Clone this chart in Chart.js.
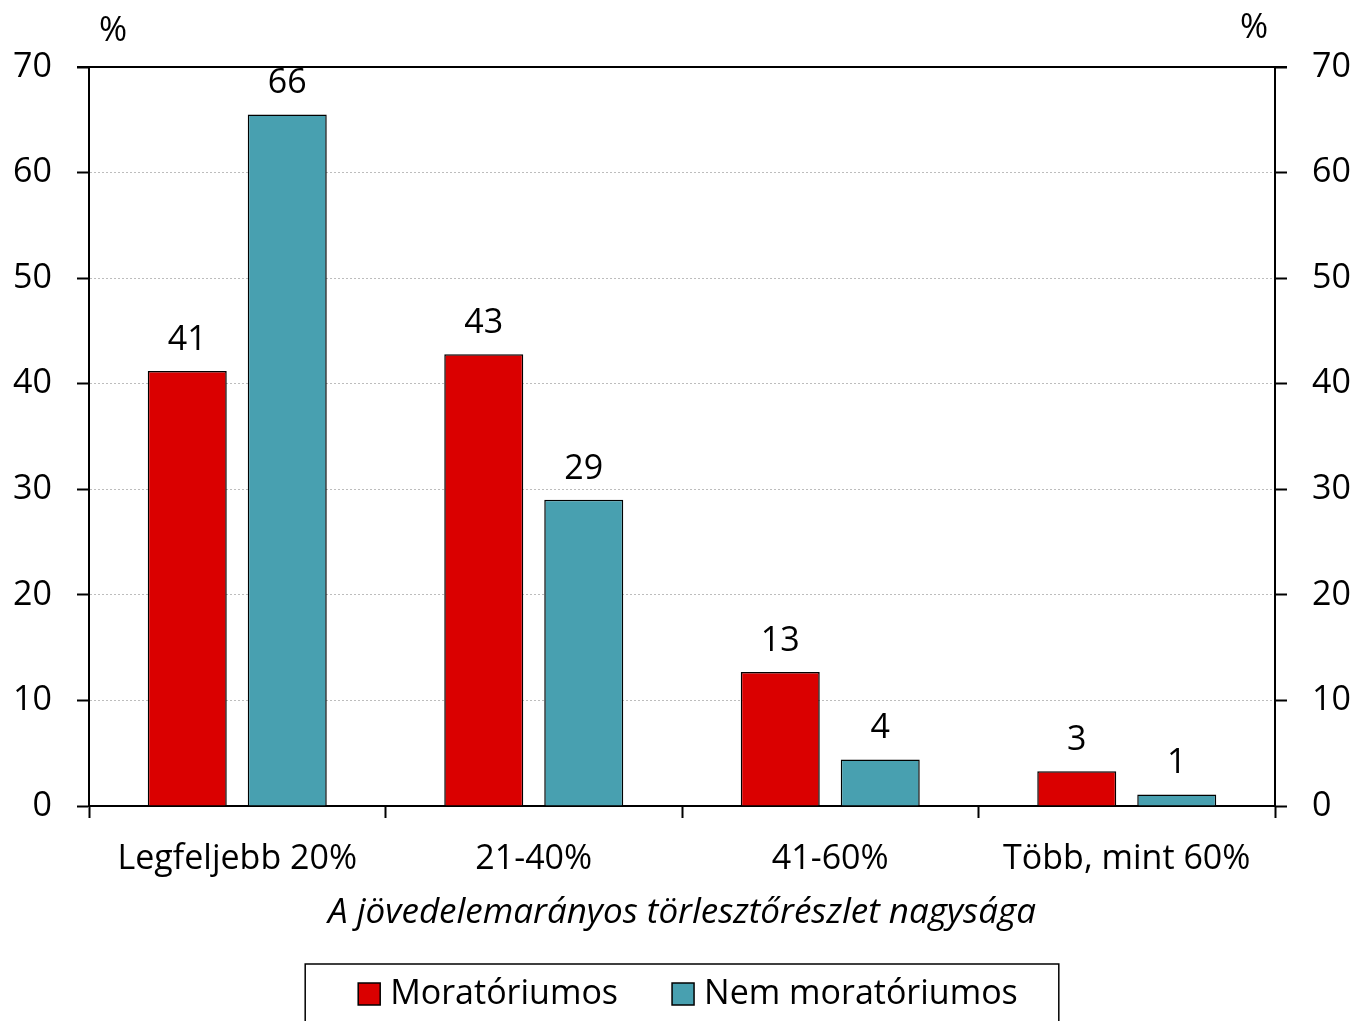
<!DOCTYPE html>
<html>
<head>
<meta charset="utf-8">
<script src="https://cdn.jsdelivr.net/npm/chart.js@4/dist/chart.umd.min.js"></script>
<style>
  html, body { margin: 0; padding: 0; background: #fff; }
  #wrap { width: 1354px; height: 1021px; }
</style>
</head>
<body>
<div id="wrap"><canvas id="grafikon"></canvas></div>
<script>
// Adatok
var kategoriak = ['Legfeljebb 20%', '21-40%', '41-60%', 'Több, mint 60%'];
var moratoriumos = [41.2, 42.8, 12.7, 3.3];
var nemMoratoriumos = [65.5, 29.0, 4.4, 1.1];
var sorozatNevek = ['Moratóriumos', 'Nem moratóriumos'];
var yTengely = { min: 0, max: 70, lepes: 10 };
var xCim = 'A jövedelemarányos törlesztőrészlet nagysága';
var egyseg = '%';

var betu = '"Open Sans", "Noto Sans", sans-serif';
var meret = 34;
var piros = '#DA0000';
var kek = '#48A0B0';

// Értékcímkék, % jelek, felső vonal és jelmagyarázat
var rajzolo = {
  id: 'rajzolo',
  afterDatasetsDraw: function (chart) {
    var ctx = chart.ctx;
    var ca = chart.chartArea;
    ctx.save();
    ctx.fillStyle = '#000';
    ctx.font = meret + 'px ' + betu;
    ctx.textAlign = 'center';
    ctx.textBaseline = 'middle';
    chart.data.datasets.forEach(function (ds, i) {
      chart.getDatasetMeta(i).data.forEach(function (el, j) {
        ctx.fillText(String(Math.round(ds.data[j])), el.x, el.y - 31);
      });
    });

    // felső keretvonal
    ctx.strokeStyle = '#000';
    ctx.lineWidth = 2;
    ctx.beginPath();
    ctx.moveTo(ca.left - 12, ca.top);
    ctx.lineTo(ca.right + 12, ca.top);
    ctx.stroke();

    // % feliratok
    ctx.fillText(egyseg, ca.left + 24, 31);
    ctx.fillText(egyseg, ca.right - 21, 28);

    // jelmagyarázat
    var y = 992;
    var doboz = 22;
    var tav = 10;
    var koz = 54;
    ctx.textAlign = 'left';
    var szelessegek = chart.data.datasets.map(function (ds) {
      return doboz + tav + ctx.measureText(ds.label).width;
    });
    var teljes = szelessegek.reduce(function (a, b) { return a + b; }, 0) + koz;
    var x = (ca.left + ca.right) / 2 - teljes / 2 + 6;
    ctx.lineWidth = 1.5;
    ctx.strokeRect(x - 53, 964, teljes + 94, 80);
    chart.data.datasets.forEach(function (ds, i) {
      ctx.fillStyle = ds.backgroundColor;
      ctx.fillRect(x, y - doboz / 2 + 2, doboz, doboz);
      ctx.strokeStyle = '#000';
      ctx.strokeRect(x, y - doboz / 2 + 2, doboz, doboz);
      ctx.fillStyle = '#000';
      ctx.fillText(ds.label, x + doboz + tav, y + 2);
      x += szelessegek[i] + koz;
    });
    ctx.restore();
  }
};

var ctx = document.getElementById('grafikon').getContext('2d');

var grafikon = new Chart(ctx, {
  type: 'bar',
  data: {
    labels: kategoriak,
    datasets: [
      {
        label: sorozatNevek[0],
        data: moratoriumos,
        backgroundColor: piros,
        borderColor: '#000',
        borderWidth: 1.5,
        yAxisID: 'y'
      },
      {
        label: sorozatNevek[1],
        data: nemMoratoriumos,
        backgroundColor: kek,
        borderColor: '#000',
        borderWidth: 1.5,
        yAxisID: 'y'
      }
    ]
  },
  options: {
    responsive: true,
    maintainAspectRatio: false,
    animation: false,
    categoryPercentage: 0.6745,
    barPercentage: 0.79,
    layout: { padding: { top: 67, bottom: 56, left: 0, right: 0 } },
    plugins: {
      legend: { display: false },
      tooltip: { enabled: false }
    },
    scales: {
      x: {
        grid: {
          offset: true,
          drawOnChartArea: false,
          drawTicks: true,
          tickLength: 12,
          tickColor: '#000',
          tickWidth: 2
        },
        border: { color: '#000', width: 2 },
        ticks: {
          color: '#000',
          font: { family: betu, size: meret },
          padding: 21,
          maxRotation: 0
        },
        title: {
          display: true,
          text: xCim,
          color: '#000',
          font: { family: betu, size: 35, style: 'italic' },
          padding: { top: 0, bottom: 31 }
        },
        afterFit: function (scale) { scale.height = 159; }
      },
      y: {
        position: 'left',
        min: yTengely.min,
        max: yTengely.max,
        grid: {
          color: function (c) {
            return (c.tick && (c.tick.value === 0 || c.tick.value === 70)) ? 'rgba(0,0,0,0)' : '#BDBDBD';
          },
          lineWidth: 1,
          tickLength: 12,
          tickColor: '#000',
          tickWidth: 2
        },
        border: { color: '#000', width: 2, dash: [2, 2] },
        ticks: {
          stepSize: yTengely.lepes,
          color: '#000',
          font: { family: betu, size: meret },
          padding: 25
        },
        afterFit: function (scale) { scale.width = 89; }
      },
      y2: {
        position: 'right',
        min: yTengely.min,
        max: yTengely.max,
        grid: {
          drawOnChartArea: false,
          tickLength: 12,
          tickColor: '#000',
          tickWidth: 2
        },
        border: { color: '#000', width: 2 },
        ticks: {
          stepSize: yTengely.lepes,
          color: '#000',
          font: { family: betu, size: meret },
          padding: 25
        },
        afterFit: function (scale) { scale.width = 79; }
      }
    }
  },
  plugins: [rajzolo]
});
</script>
</body>
</html>
